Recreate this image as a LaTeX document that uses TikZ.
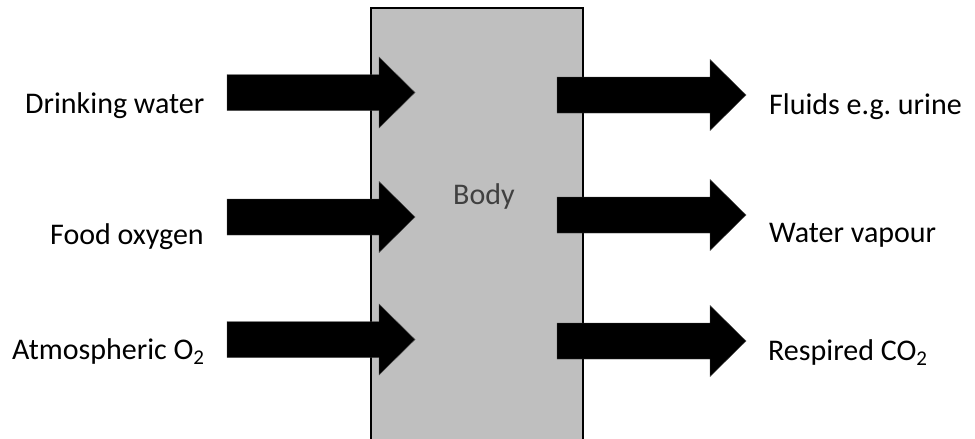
\documentclass[tikz,border=0pt]{standalone}
\usepackage{fontspec}
\setmainfont{Carlito}
\frenchspacing
\tikzset{
  bodybox/.style={fill=bodygray,draw=black,line width=1.3pt},
  fatarrow/.style={fill=black,draw=black!70,line width=0.4pt},
  lbl/.style={anchor=base west,inner sep=0pt,font=\fontsize{30}{36}\selectfont},
}
\definecolor{bodygray}{HTML}{BFBFBF}
\definecolor{bodytext}{HTML}{404040}
\newcommand{\fatarr}[3]{% x start, y center, x tip
  \fill[fatarrow] (#1,#2-18) -- (#3-36,#2-18) -- (#3-36,#2-35.5) -- (#3,#2)
     -- (#3-36,#2+35.5) -- (#3-36,#2+18) -- (#1,#2+18) -- cycle;}
\begin{document}
\begin{tikzpicture}[x=1pt,y=-1pt]
\useasboundingbox (0,0) rectangle (975,439);
\begin{scope}
\clip (0,0) rectangle (975,439);
\draw[bodybox] (371,8) rectangle (583,460);
\end{scope}
\node[lbl,text=bodytext] (body) at (453,204) {Body};
% inputs
\fatarr{227}{92.5}{415}
\fatarr{227}{217}{415}
\fatarr{227}{339.5}{415}
% outputs
\fatarr{557}{95}{746}
\fatarr{557}{215}{746}
\fatarr{557}{341}{746}
% labels
\node[lbl] (drink) at (25,113) {Drinking water};
\node[lbl] (food) at (50,244) {Food oxygen};
\node[lbl] (atmo) at (12,359) {Atmospheric O\textsubscript{2}};
\node[lbl] (fluids) at (769,114) {Fluids e.g.\ urine};
\node[lbl] (vapour) at (769,242) {Water vapour};
\node[lbl] (resp) at (768,360) {Respired CO\textsubscript{2}};
\end{tikzpicture}
\end{document}
